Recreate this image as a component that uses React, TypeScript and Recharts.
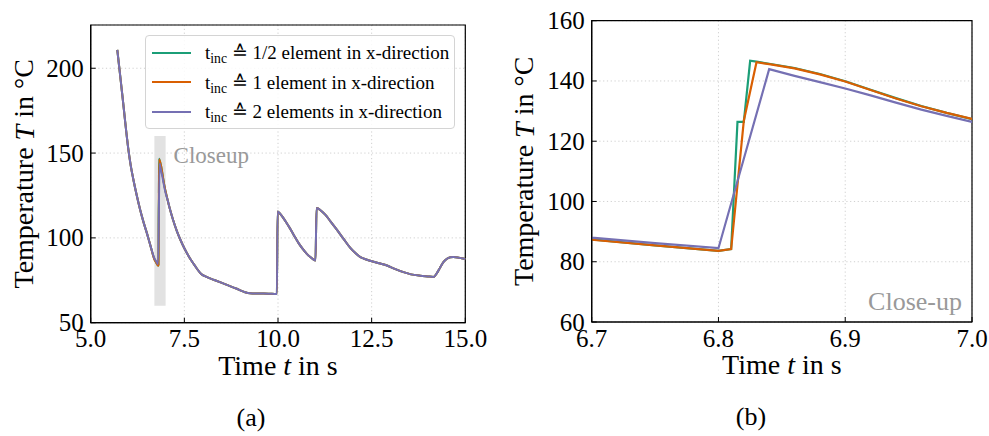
import React from "react";
import {
  CartesianGrid,
  Legend,
  Line,
  LineChart,
  ReferenceArea,
  ReferenceDot,
  XAxis,
  YAxis,
} from "recharts";

const FONT = '"Liberation Serif", "DejaVu Serif", serif';

// shared part of the cooling curve before the close-up window
const earlyTime = [5.71, 5.77, 5.83, 5.88, 5.92, 5.96, 6.0, 6.07, 6.14, 6.23, 6.32, 6.41, 6.5, 6.6];
const earlyTemp = [210.8, 199, 187, 177, 168.5, 160.5, 153, 142.5, 134.3, 125, 116.6, 109.3, 102.8, 95];

// close-up window 6.7 s .. 7.0 s, one set per time increment
const halfTime = [6.7, 6.75, 6.8, 6.81, 6.815, 6.82, 6.825, 6.83, 6.84, 6.86, 6.88, 6.9, 6.92, 6.94, 6.96, 6.98, 7.0];
const halfTemp = [87.4, 85.4, 83.6, 84.2, 126.4, 126.4, 146.7, 146.4, 145.7, 144.3, 142.3, 139.9, 137.1, 134.3, 131.7, 129.4, 127.3];

const oneTime = [6.7, 6.75, 6.8, 6.81, 6.82, 6.83, 6.84, 6.86, 6.88, 6.9, 6.92, 6.94, 6.96, 6.98, 7.0];
const oneTemp = [87.3, 85.4, 83.6, 84.2, 126.8, 146.2, 145.6, 144.2, 142.2, 139.8, 137.0, 134.2, 131.6, 129.4, 127.4];

const twoTime = [6.7, 6.75, 6.8, 6.84, 6.86, 6.88, 6.9, 6.92, 6.94, 6.96, 6.98, 7.0];
const twoTemp = [88.0, 86.2, 84.5, 143.9, 141.7, 139.6, 137.5, 135.2, 132.8, 130.5, 128.4, 126.4];

// shared part after the close-up window
const lateTime = [
  7.05, 7.1, 7.15, 7.2, 7.3, 7.4, 7.5, 7.6, 7.7, 7.8, 7.88, 7.95, 8.05, 8.3, 8.6, 8.9, 9.12, 9.25, 9.5, 9.75,
  9.97, 9.99, 10.05, 10.14, 10.23, 10.32, 10.43, 10.55, 10.66, 10.77, 10.88, 11.0, 11.03, 11.15, 11.26, 11.4,
  11.57, 11.75, 11.93, 12.06, 12.19, 12.3, 12.46, 12.7, 12.91, 13.1, 13.35, 13.55, 13.8, 14.0, 14.15, 14.25,
  14.33, 14.42, 14.51, 14.6, 14.68, 14.8, 14.9, 15.0,
];
const lateTemp = [
  122.6, 118.2, 114.2, 110.5, 104, 98.6, 93.9, 89.8, 86.2, 83, 80.5, 78.7, 77.4, 75.2, 72.6, 70, 68.0, 67.4, 67.2, 67.1,
  66.9, 115.5, 114.4, 111.8, 108.8, 105.6, 101.3, 96.9, 93.5, 90.6, 88.4, 86.6, 117.6, 116, 113.7, 109.8,
  104.9, 99.4, 94.1, 91.2, 88.8, 87.7, 86.5, 85, 83.7, 81.9, 79.8, 78.5, 77.7, 77.3, 77.0, 79.5,
  82.6, 85.8, 87.7, 88.6, 88.8, 88.5, 88.0, 87.6,
];

const overviewXTicks = [5, 7.5, 10, 12.5, 15];
const overviewYTicks = [50, 100, 150, 200];
const closeXTicks = [6.7, 6.8, 6.9, 7.0];
const closeYTicks = [60, 80, 100, 120, 140, 160];

const toPoints = (time: number[], temp: number[]) => time.map((t, i) => ({ t, T: temp[i] }));

const series = [
  {
    key: "half",
    label: "1/2 element in x-direction",
    color: "#1b9e77",
    data: toPoints([...earlyTime, ...halfTime, ...lateTime], [...earlyTemp, ...halfTemp, ...lateTemp]),
  },
  {
    key: "one",
    label: "1 element in x-direction",
    color: "#d95f02",
    data: toPoints([...earlyTime, ...oneTime, ...lateTime], [...earlyTemp, ...oneTemp, ...lateTemp]),
  },
  {
    key: "two",
    label: "2 elements in x-direction",
    color: "#7570b3",
    data: toPoints([...earlyTime, ...twoTime, ...lateTime], [...earlyTemp, ...twoTemp, ...lateTemp]),
  },
];

const TICK_MARGIN = 7;

function YTick(props: any) {
  const { x, y, payload } = props;
  const axisX = x + TICK_MARGIN;
  return (
    <g>
      <line x1={axisX} x2={axisX + 5} y1={y} y2={y} stroke="#000" strokeWidth={1} />
      <text x={x} y={y + 8.5} textAnchor="end" fontFamily={FONT} fontSize={25} fill="#000">
        {payload.value}
      </text>
    </g>
  );
}

function XTick(props: any) {
  const { x, y, payload } = props;
  return (
    <g>
      <line x1={x} x2={x} y1={y} y2={y - 5} stroke="#000" strokeWidth={1} />
      <text x={x} y={y + 24.5} textAnchor="middle" fontFamily={FONT} fontSize={25} fill="#000">
        {Number(payload.value).toFixed(1)}
      </text>
    </g>
  );
}

function YLabel(props: any) {
  const { viewBox } = props;
  const cx = 24;
  const cy = viewBox.y + viewBox.height / 2;
  return (
    <text
      x={cx}
      y={cy}
      transform={`rotate(-90, ${cx}, ${cy})`}
      textAnchor="middle"
      dominantBaseline="central"
      fontFamily={FONT}
      fontSize={28}
      fill="#000"
    >
      Temperature <tspan fontStyle="italic">T</tspan> in °C
    </text>
  );
}

function makeXLabel(caption: string) {
  return function XLabel(props: any) {
    const { viewBox } = props;
    const cx = viewBox.x + viewBox.width / 2;
    return (
      <g>
        <text x={cx} y={viewBox.y + 52} textAnchor="middle" fontFamily={FONT} fontSize={28} fill="#000">
          Time <tspan fontStyle="italic">t</tspan> in s
        </text>
        <text x={251} y={viewBox.y + 103} textAnchor="middle" fontFamily={FONT} fontSize={26} fill="#000">
          {caption}
        </text>
      </g>
    );
  };
}

function LegendBox() {
  return (
    <div
      style={{
        width: 310,
        height: 94,
        boxSizing: "border-box",
        border: "1px solid #d4d4d4",
        borderRadius: 4,
        background: "rgba(255,255,255,0.85)",
        fontFamily: FONT,
        fontSize: 19,
        paddingTop: 2,
      }}
    >
      {series.map((s) => (
        <div key={s.key} style={{ display: "flex", alignItems: "center", height: 29.5 }}>
          <span style={{ display: "inline-block", width: 39, height: 2, background: s.color, marginLeft: 6, marginRight: 14 }} />
          <span style={{ whiteSpace: "nowrap" }}>
            t<span style={{ fontSize: "0.72em", position: "relative", top: "0.3em" }}>inc</span> ≙ {s.label}
          </span>
        </div>
      ))}
    </div>
  );
}

function Overview() {
  return (
    <LineChart width={500} height={436} margin={{ top: 25, right: 34.7, bottom: 73.3, left: 0 }}>
      <CartesianGrid stroke="#c4c4c4" strokeDasharray="1.2 2.6" strokeWidth={0.8} />
      <ReferenceArea x1={6.7} x2={7.0} y1={60} y2={160} fill="#e2e2e2" fillOpacity={1} stroke="none" />
      <ReferenceDot
        x={7.08}
        y={149}
        r={0}
        fill="none"
        stroke="none"
        label={{ value: "Closeup", position: "right", fill: "#999", fontSize: 23, fontFamily: FONT }}
      />
      <XAxis
        type="number"
        dataKey="t"
        domain={[5, 15]}
        ticks={overviewXTicks}
        interval={0}
        height={40}
        tickSize={0}
        tickMargin={0}
        tickLine={false}
        axisLine={{ stroke: "#000", strokeWidth: 1.2 }}
        tick={<XTick />}
        label={makeXLabel("(a)")}
      />
      <YAxis
        type="number"
        dataKey="T"
        domain={[50, 225.5]}
        ticks={overviewYTicks}
        interval={0}
        width={90.7}
        tickSize={0}
        tickMargin={TICK_MARGIN}
        tickLine={false}
        axisLine={{ stroke: "#000", strokeWidth: 1.2 }}
        tick={<YTick />}
        label={YLabel}
      />
      {series.map((s) => (
        <Line
          key={s.key}
          data={s.data}
          dataKey="T"
          name={s.label}
          type="monotone"
          stroke={s.color}
          strokeWidth={2}
          dot={false}
          activeDot={false}
          isAnimationActive={false}
        />
      ))}
      <ReferenceArea x1={5} x2={15} y1={50} y2={225.5} fill="none" stroke="#000" strokeWidth={1.2} />
      <Legend
        layout="vertical"
        align="center"
        verticalAlign="middle"
        wrapperStyle={{ left: 145, top: 35, width: 310, height: 94 }}
        content={() => <LegendBox />}
      />
    </LineChart>
  );
}

function CloseUp() {
  return (
    <LineChart width={489} height={436} margin={{ top: 20.7, right: 17, bottom: 74, left: 0 }}>
      <CartesianGrid stroke="#c4c4c4" strokeDasharray="1.2 2.6" strokeWidth={0.8} />
      <ReferenceDot
        x={7.0}
        y={67}
        r={0}
        fill="none"
        stroke="none"
        label={{ value: "Close-up", position: "left", offset: 10, fill: "#999", fontSize: 26, fontFamily: FONT }}
      />
      <XAxis
        type="number"
        dataKey="t"
        domain={[6.7, 7.0]}
        allowDataOverflow
        ticks={closeXTicks}
        interval={0}
        height={40}
        tickSize={0}
        tickMargin={0}
        tickLine={false}
        axisLine={{ stroke: "#000", strokeWidth: 1.2 }}
        tick={<XTick />}
        label={makeXLabel("(b)")}
      />
      <YAxis
        type="number"
        dataKey="T"
        domain={[60, 160]}
        allowDataOverflow
        ticks={closeYTicks}
        interval={0}
        width={91.7}
        tickSize={0}
        tickMargin={TICK_MARGIN}
        tickLine={false}
        axisLine={{ stroke: "#000", strokeWidth: 1.2 }}
        tick={<YTick />}
        label={YLabel}
      />
      {series.map((s) => (
        <Line
          key={s.key}
          data={s.data}
          dataKey="T"
          name={s.label}
          type="linear"
          stroke={s.color}
          strokeWidth={2.2}
          dot={false}
          activeDot={false}
          isAnimationActive={false}
        />
      ))}
      <ReferenceArea x1={6.7} x2={7.0} y1={60} y2={160} fill="none" stroke="#000" strokeWidth={1.2} />
    </LineChart>
  );
}

export default function App() {
  return (
    <div style={{ position: "absolute", left: 0, top: 0, width: 989, height: 436, background: "#fff" }}>
      <div style={{ position: "absolute", left: 500, top: 0 }}>
        <CloseUp />
      </div>
      <div style={{ position: "absolute", left: 0, top: 0 }}>
        <Overview />
      </div>
    </div>
  );
}
